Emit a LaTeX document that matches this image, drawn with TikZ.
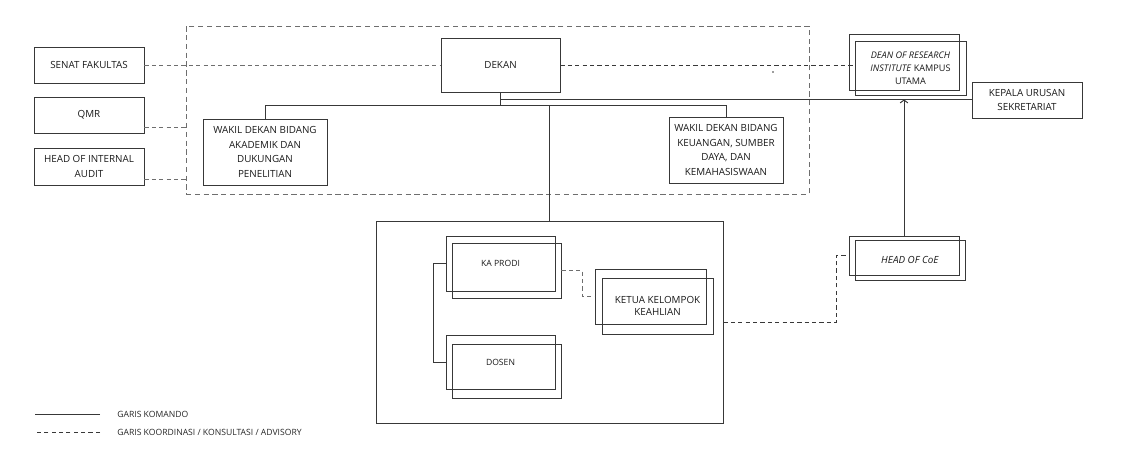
\documentclass[tikz,border=0pt]{standalone}
\usepackage{fontspec}
\setmainfont{Open Sans}
\usetikzlibrary{arrows.meta}
\definecolor{linegray}{HTML}{383838}
\definecolor{dashgray}{HTML}{6E6E6E}
\tikzset{
  box/.style={draw=linegray, line width=0.55pt, inner sep=0pt, align=center, text=black!90, font=\fontsize{5.6}{8.4}\selectfont},
  sz/.style 2 args={minimum width=#1*0.02cm, minimum height=#2*0.02cm},
  smalltext/.style={font=\fontsize{4.9}{6}\selectfont},
  cmdline/.style={draw=linegray, line width=0.55pt},
  coordline/.style={draw=dashgray, line width=0.55pt, dash pattern=on 2.4pt off 1.8pt},
}
\begin{document}
\begin{tikzpicture}[x=0.02cm, y=-0.02cm]
\useasboundingbox (0,0) rectangle (1125,452);
\node[draw=dashgray, line width=0.55pt, dash pattern=on 3pt off 2pt, sz={623}{168}] (faculty) at (497.5,110) {};
\node[box, sz={110}{36}] (senat) at (89,65) {SENAT FAKULTAS};
\node[box, sz={110}{36}] (qmr) at (89,115) {QMR};
\node[box, sz={110}{37}] (audit) at (89,166.5) {HEAD OF INTERNAL\\AUDIT};
\node[box, sz={119}{54}] (dekan) at (500.5,65) {DEKAN};
\node[box, sz={124}{66}] (wakil1) at (265,152) {WAKIL DEKAN BIDANG\\AKADEMIK DAN\\DUKUNGAN\\PENELITIAN};
\node[box, sz={114}{66}] (wakil2) at (726,150) {WAKIL DEKAN BIDANG\\KEUANGAN, SUMBER\\DAYA, DAN\\KEMAHASISWAAN};
\node[box, sz={110}{56}] (deanA) at (904,62) {};
\node[box, sz={111}{54}, font=\fontsize{5.2}{7.4}\selectfont] (deanB) at (910.5,68) {\textit{DEAN OF RESEARCH}\\\textit{INSTITUTE} KAMPUS\\UTAMA};
\node[box, sz={110}{36}, font=\fontsize{5.6}{8}\selectfont] (kepala) at (1027,100) {KEPALA URUSAN\\SEKRETARIAT};
\node[box, sz={347}{202}] (unit) at (549.5,322) {};
\node[box, sz={109}{55}, smalltext] (prodiA) at (500.5,263.5) {KA PRODI};
\node[box, sz={109}{55}] (prodiB) at (506.5,270.5) {};
\node[box, sz={109}{54}, smalltext] (dosenA) at (500.5,362) {DOSEN};
\node[box, sz={109}{54}] (dosenB) at (506.5,371) {};
\node[box, sz={111}{55}] (ketuaA) at (650.5,296.5) {};
\node[box, sz={111}{56}, font=\fontsize{5.6}{7}\selectfont] (ketuaB) at (657.5,306) {KETUA KELOMPOK\\KEAHLIAN};
\node[box, sz={110}{39}] (coeA) at (904,255.5) {};
\node[box, sz={110}{40}] (coeB) at (910,260) {\textit{HEAD OF CoE}};
\draw[coordline] (senat.east) -- (dekan.west);
\coordinate (qmrout) at ([yshift=-0.24cm]qmr.east);
\draw[coordline] (qmrout) -- (qmrout -| faculty.west);
\coordinate (auditout) at ([yshift=-0.25cm]audit.east);
\draw[coordline] (auditout) -- (auditout -| faculty.west);
\draw[coordline, draw=linegray] (dekan.east) -- (dekan.east -| deanB.west);
\fill[linegray] (773,72) circle (0.9);
\draw[cmdline] (dekan.south) -- ++(0,13) coordinate (hub);
\draw[cmdline] (wakil1.north) |- (hub) -| (wakil2.north);
\coordinate (bar) at ([yshift=-0.14cm]dekan.south);
\draw[cmdline] (bar) -- (bar -| kepala.west);
\draw[cmdline] (unit.north |- hub) -- (unit.north);
\draw[cmdline, -{Straight Barb[length=1.6pt, width=4.4pt]}] (coeA.north) -- (coeA.north |- bar);
\draw[cmdline] (prodiA.west) -- ++(-12,0) |- (dosenA.west);
\draw[coordline] (prodiB.east) -- ++(21,0) |- (ketuaA.west);
\draw[coordline, draw=linegray] (unit.east) -- ++(113,0) |- (coeA.west);
\node[smalltext, anchor=west, inner sep=0pt, text=black!85] (legcmd) at (117,414) {GARIS KOMANDO};
\node[smalltext, anchor=west, inner sep=0pt, text=black!85] (legcoord) at (117,432) {GARIS KOORDINASI / KONSULTASI / ADVISORY};
\draw[cmdline] ([xshift=-0.34cm]legcmd.west) -- ++(-65,0);
\draw[coordline, draw=linegray] ([xshift=-0.34cm]legcoord.west) -- ++(-65,0);
\end{tikzpicture}
\end{document}
